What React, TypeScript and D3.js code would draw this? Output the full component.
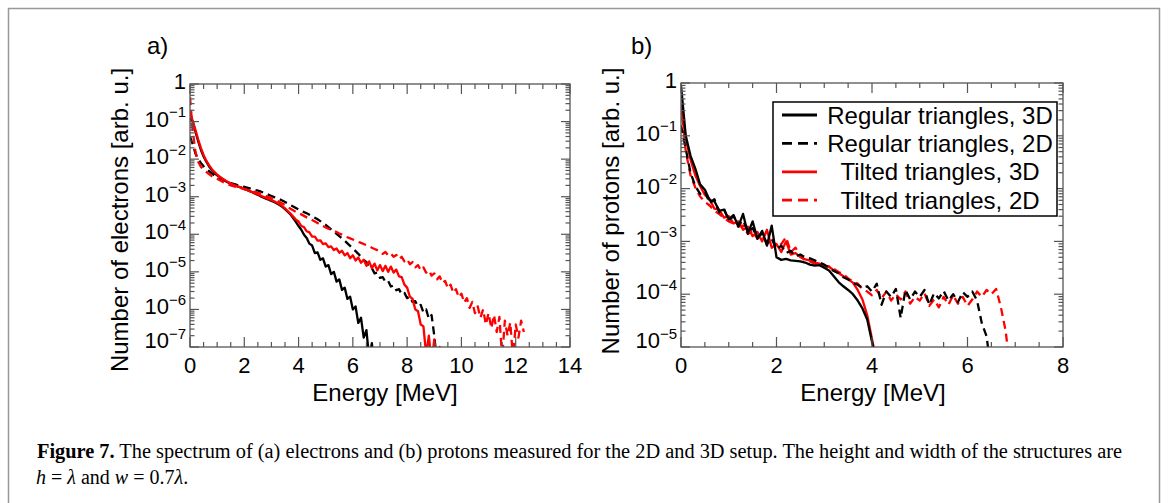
import React, { useEffect, useRef } from "react";
import * as d3 from "d3";

// energy bins are 0.1 MeV wide in both panels, first bin at 0 MeV
const binWidth = 0.1;

// a) electron spectra, log10 of the number per bin
const electronRegular3D = [
  -0.92, -1.0, -1.27, -1.52, -1.75, -1.93, -2.07, -2.19, -2.29, -2.37,
  -2.43, -2.48, -2.53, -2.58, -2.62, -2.65, -2.68, -2.71, -2.74, -2.76,
  -2.79, -2.82, -2.85, -2.88, -2.92, -2.95, -2.99, -3.02, -3.05, -3.08,
  -3.11, -3.14, -3.18, -3.22, -3.27, -3.33, -3.4, -3.47, -3.57, -3.67,
  -3.78, -3.88, -4.01, -4.1, -4.25, -4.3, -4.5, -4.48, -4.68, -4.64,
  -4.86, -4.82, -5.06, -5.0, -5.26, -5.2, -5.48, -5.42, -5.72, -5.66,
  -6.0, -5.92, -6.36, -6.22, -6.75, -6.55, -7.3, -6.9, -7.6,
];
const electronRegular2D = [
  -1.4, -1.6, -1.85, -2.0, -2.1, -2.19, -2.26, -2.32, -2.38, -2.43,
  -2.47, -2.51, -2.55, -2.58, -2.61, -2.64, -2.66, -2.68, -2.7, -2.72,
  -2.74, -2.76, -2.78, -2.8, -2.82, -2.84, -2.86, -2.89, -2.92, -2.95,
  -2.98, -3.01, -3.04, -3.07, -3.1, -3.14, -3.18, -3.22, -3.26, -3.3,
  -3.34, -3.37, -3.41, -3.44, -3.48, -3.52, -3.56, -3.6, -3.65, -3.7,
  -3.75, -3.81, -3.87, -3.93, -3.99, -4.05, -4.11, -4.17, -4.24, -4.31,
  -4.38, -4.45, -4.52, -4.6, -4.68, -4.74, -4.88, -4.9, -5.04, -5.02,
  -5.16, -5.14, -5.27, -5.24, -5.39, -5.36, -5.49, -5.46, -5.6, -5.56,
  -5.7, -5.66, -5.8, -5.78, -5.92, -5.88, -6.08, -6.0, -6.25, -6.15,
  -6.7, -7.4,
];
const electronTilted3D = [
  -0.75, -0.98, -1.22, -1.47, -1.7, -1.89, -2.04, -2.16, -2.26, -2.34,
  -2.41, -2.47, -2.52, -2.57, -2.61, -2.65, -2.68, -2.71, -2.74, -2.76,
  -2.79, -2.82, -2.85, -2.88, -2.91, -2.94, -2.97, -3.0, -3.03, -3.06,
  -3.09, -3.12, -3.16, -3.2, -3.25, -3.31, -3.38, -3.45, -3.53, -3.61,
  -3.66, -3.78, -3.81, -3.92, -3.95, -4.06, -4.06, -4.17, -4.16, -4.26,
  -4.24, -4.34, -4.32, -4.42, -4.38, -4.49, -4.44, -4.56, -4.5, -4.64,
  -4.56, -4.7, -4.62, -4.76, -4.68, -4.84, -4.72, -4.9, -4.78, -4.96,
  -4.82, -4.98, -4.84, -5.0, -4.86, -5.02, -4.94, -5.12, -5.14, -5.34,
  -5.42, -5.66, -5.72, -6.0, -6.05, -6.4, -6.45, -7.2, -6.7, -7.4,
  -6.8, -7.5, -7.0, -7.6,
];
const electronTilted2D = [
  -0.35, -1.25, -1.8, -2.07, -2.2, -2.28, -2.34, -2.4, -2.45, -2.49,
  -2.52, -2.56, -2.6, -2.64, -2.67, -2.7, -2.72, -2.74, -2.76, -2.78,
  -2.8, -2.82, -2.84, -2.86, -2.88, -2.9, -2.92, -2.95, -2.98, -3.01,
  -3.04, -3.07, -3.1, -3.14, -3.18, -3.22, -3.27, -3.32, -3.36, -3.4,
  -3.44, -3.47, -3.51, -3.55, -3.58, -3.62, -3.66, -3.7, -3.74, -3.78,
  -3.82, -3.85, -3.88, -3.91, -3.94, -3.98, -4.01, -4.05, -4.08, -4.11,
  -4.14, -4.17, -4.2, -4.23, -4.26, -4.29, -4.32, -4.36, -4.39, -4.42,
  -4.45, -4.52, -4.47, -4.56, -4.51, -4.6, -4.55, -4.66, -4.6, -4.72,
  -4.66, -4.8, -4.74, -4.88, -4.82, -4.96, -4.88, -5.02, -4.96, -5.1,
  -5.04, -5.2, -5.12, -5.3, -5.24, -5.44, -5.34, -5.56, -5.46, -5.68,
  -5.58, -5.82, -5.7, -5.96, -5.8, -6.1, -5.92, -6.22, -6.0, -6.4,
  -6.1, -6.5, -6.15, -6.6, -6.2, -7.3, -6.3, -6.7, -6.35, -7.3,
  -6.4, -6.75, -6.3, -6.6,
];

// b) proton spectra, log10 of the number per bin
const protonRegular3D = [
  -0.05, -1.0, -1.38, -1.62, -1.92, -2.02, -2.22, -2.24, -2.42, -2.4,
  -2.58, -2.5, -2.72, -2.48, -2.85, -2.62, -2.95, -2.8, -3.08, -2.7,
  -3.3, -3.35, -3.33, -3.36, -3.37, -3.38, -3.4, -3.44, -3.46, -3.45,
  -3.5, -3.55, -3.66, -3.77, -3.85, -3.92, -4.0, -4.12, -4.27, -4.48,
  -4.9, -5.3,
];
const protonRegular2D = [
  -0.8, -1.25, -1.7, -1.95, -2.1, -2.05, -2.28, -2.2, -2.45, -2.38,
  -2.6, -2.52, -2.7, -2.6, -2.82, -2.75, -2.92, -2.85, -3.05, -2.95,
  -3.15, -3.08, -3.22, -3.18, -3.28, -3.25, -3.3, -3.32, -3.36, -3.4,
  -3.44, -3.5, -3.56, -3.6, -3.68, -3.72, -3.78, -3.82, -3.88, -3.85,
  -3.95, -3.8, -4.2, -3.95, -4.05, -3.9, -4.45, -3.92, -4.1, -3.95,
  -4.05, -3.92, -4.2, -3.98, -4.08, -3.94, -4.12, -4.0, -4.15, -3.96,
  -4.05, -3.95, -4.12, -4.55, -4.8, -5.5,
];
const protonTilted3D = [
  -0.45, -1.05, -1.45, -1.75, -1.95, -2.12, -2.2, -2.38, -2.4, -2.55,
  -2.52, -2.66, -2.62, -2.78, -2.72, -2.9, -2.82, -3.0, -2.78, -3.12,
  -3.05, -3.2, -3.0, -3.25, -3.22, -3.3, -3.34, -3.36, -3.4, -3.42,
  -3.46, -3.48, -3.55, -3.6, -3.66, -3.72, -3.78, -3.92, -4.1, -4.4,
  -4.85, -5.3,
];
const protonTilted2D = [
  -0.4, -1.3, -1.75, -1.98, -2.15, -2.25, -2.32, -2.42, -2.48, -2.56,
  -2.62, -2.66, -2.72, -2.7, -2.86, -2.8, -2.95, -2.88, -3.02, -2.95,
  -3.1, -3.05, -2.92, -3.2, -3.12, -3.28, -3.36, -3.38, -3.42, -3.44,
  -3.46, -3.48, -3.52, -3.58, -3.62, -3.7, -3.76, -3.8, -3.9, -3.95,
  -4.02, -3.92, -4.08, -3.95, -4.12, -4.0, -4.1, -3.95, -4.18, -4.05,
  -4.12, -3.98, -4.22, -4.1, -4.25, -4.05, -4.2, -4.02, -4.18, -4.05,
  -4.22, -4.1, -3.95, -4.05, -3.92, -4.0, -3.9, -4.25, -4.7, -5.5,
];

const legendLabels = [
  "Regular triangles, 3D",
  "Regular triangles, 2D",
  "Tilted triangles, 3D",
  "Tilted triangles, 2D",
];
const legendColors = ["#000", "#000", "#ff0000", "#ff0000"];
const legendDashed = [false, true, false, true];

const sans = "'Liberation Sans', Arial, Helvetica, sans-serif";
const serif = "'Liberation Serif', 'Times New Roman', serif";

type Series = { values: number[]; color: string; dashed: boolean };
type Panel = {
  id: string;
  left: number; right: number; top: number; bottom: number;
  xMax: number; yMinExp: number;
  series: Series[];
  yLabel: string; yLabelX: number; yLabelY: number;
  xLabelX: number;
  tag: string; tagX: number;
};

function drawPanel(svg: any, p: Panel) {
  const x = d3.scaleLinear().domain([0, p.xMax]).range([p.left, p.right]);
  const y = d3.scaleLog().domain([Math.pow(10, p.yMinExp), 1]).range([p.bottom, p.top]);
  const axisColor = "#555";

  svg.append("clipPath").attr("id", p.id)
    .append("rect")
    .attr("x", p.left).attr("y", p.top)
    .attr("width", p.right - p.left).attr("height", p.bottom - p.top);

  const line = d3.line<number>()
    .x((_, i) => x(i * binWidth))
    .y(d => y(Math.pow(10, d)));

  const plot = svg.append("g").attr("clip-path", `url(#${p.id})`);
  p.series.forEach(s => {
    plot.append("path")
      .attr("d", line(s.values))
      .attr("fill", "none")
      .attr("stroke", s.color)
      .attr("stroke-width", 2.3)
      .attr("stroke-linejoin", "round")
      .attr("stroke-dasharray", s.dashed ? "8,5" : null);
  });

  // frame
  svg.append("rect")
    .attr("x", p.left).attr("y", p.top)
    .attr("width", p.right - p.left).attr("height", p.bottom - p.top)
    .attr("fill", "none").attr("stroke", axisColor).attr("stroke-width", 1.3);

  // x ticks, inward on bottom and top
  const ticks = svg.append("g").attr("stroke", axisColor).attr("stroke-width", 1.2);
  d3.range(0, p.xMax + 1e-9, 0.5).forEach(t => {
    const len = t % 2 === 0 ? 10 : 5;
    ticks.append("line").attr("x1", x(t)).attr("x2", x(t)).attr("y1", p.bottom).attr("y2", p.bottom - len);
    ticks.append("line").attr("x1", x(t)).attr("x2", x(t)).attr("y1", p.top).attr("y2", p.top + len);
  });
  // y ticks, log minor ticks
  y.ticks().forEach(t => {
    const e = Math.log10(t);
    const major = Math.abs(e - Math.round(e)) < 1e-6;
    const len = major ? 9 : 4.5;
    ticks.append("line").attr("x1", p.left).attr("x2", p.left + len).attr("y1", y(t)).attr("y2", y(t));
    ticks.append("line").attr("x1", p.right).attr("x2", p.right - len).attr("y1", y(t)).attr("y2", y(t));
  });

  // x tick labels
  d3.range(0, p.xMax + 1e-9, 2).forEach(t => {
    svg.append("text")
      .attr("x", x(t)).attr("y", 373)
      .attr("text-anchor", "middle")
      .attr("font-family", sans).attr("font-size", 22)
      .text(String(t));
  });

  // y tick labels
  d3.range(0, p.yMinExp - 1, -1).forEach(e => {
    const ty = Math.min(y(Math.pow(10, e)) + 5, p.bottom + 1);
    const lab = svg.append("text")
      .attr("x", p.left - 4).attr("y", ty)
      .attr("text-anchor", "end")
      .attr("font-family", sans).attr("font-size", 22);
    if (e === 0) {
      lab.text("1");
    } else {
      lab.append("tspan").text("10");
      lab.append("tspan").attr("dy", -9.5).attr("font-size", 15).text("\u2212" + -e);
    }
  });

  // axis titles
  svg.append("text")
    .attr("x", p.xLabelX).attr("y", 401)
    .attr("text-anchor", "middle")
    .attr("font-family", sans).attr("font-size", 24)
    .text("Energy [MeV]");
  svg.append("text")
    .attr("transform", `translate(${p.yLabelX},${p.yLabelY}) rotate(-90)`)
    .attr("text-anchor", "middle")
    .attr("dy", "0.35em")
    .attr("font-family", sans).attr("font-size", 24)
    .text(p.yLabel);

  svg.append("text")
    .attr("x", p.tagX).attr("y", 54)
    .attr("font-family", sans).attr("font-size", 24)
    .text(p.tag);
}

export default function App() {
  const ref = useRef<SVGSVGElement>(null);

  useEffect(() => {
    const svg = d3.select(ref.current);
    svg.selectAll("*").remove();

    svg.append("rect").attr("width", 1168).attr("height", 503).attr("fill", "#fff");
    // figure border
    svg.append("rect")
      .attr("x", 8.5).attr("y", 8.5).attr("width", 1151).attr("height", 600)
      .attr("fill", "none").attr("stroke", "#999").attr("stroke-width", 1.5);

    drawPanel(svg, {
      id: "clipA",
      left: 190, right: 570, top: 84, bottom: 347,
      xMax: 14, yMinExp: -7,
      series: [
        { values: electronRegular3D, color: legendColors[0], dashed: false },
        { values: electronRegular2D, color: legendColors[1], dashed: true },
        { values: electronTilted3D, color: legendColors[2], dashed: false },
        { values: electronTilted2D, color: legendColors[3], dashed: true },
      ],
      yLabel: "Number of electrons [arb. u.]", yLabelX: 120, yLabelY: 220,
      xLabelX: 385,
      tag: "a)", tagX: 147,
    });

    drawPanel(svg, {
      id: "clipB",
      left: 681, right: 1063, top: 83, bottom: 347,
      xMax: 8, yMinExp: -5,
      series: [
        { values: protonTilted2D, color: legendColors[3], dashed: true },
        { values: protonTilted3D, color: legendColors[2], dashed: false },
        { values: protonRegular2D, color: legendColors[1], dashed: true },
        { values: protonRegular3D, color: legendColors[0], dashed: false },
      ],
      yLabel: "Number of protons [arb. u.]", yLabelX: 611, yLabelY: 211,
      xLabelX: 873,
      tag: "b)", tagX: 631,
    });

    // legend of panel b
    const legend = svg.append("g");
    legend.append("rect")
      .attr("x", 773).attr("y", 102).attr("width", 284).attr("height", 114)
      .attr("fill", "#fff").attr("stroke", "#000").attr("stroke-width", 1.5);
    legendLabels.forEach((label, i) => {
      const ly = 115 + i * 28.4;
      legend.append("line")
        .attr("x1", 782).attr("x2", 817).attr("y1", ly).attr("y2", ly)
        .attr("stroke", legendColors[i]).attr("stroke-width", 2.8)
        .attr("stroke-dasharray", legendDashed[i] ? "10,6" : null);
      legend.append("text")
        .attr("x", 940).attr("y", ly + 8.5)
        .attr("text-anchor", "middle")
        .attr("font-family", sans).attr("font-size", 24)
        .text(label);
    });

    // caption
    const cap1 = svg.append("text")
      .attr("x", 37).attr("y", 458)
      .attr("font-family", serif).attr("font-size", 20)
      .attr("textLength", 1085).attr("lengthAdjust", "spacingAndGlyphs");
    cap1.append("tspan").attr("font-weight", "bold").text("Figure 7.");
    cap1.append("tspan").text(" The spectrum of (a) electrons and (b) protons measured for the 2D and 3D setup. The height and width of the structures are");

    const cap2 = svg.append("text")
      .attr("x", 36).attr("y", 484)
      .attr("font-family", serif).attr("font-size", 20);
    cap2.append("tspan").attr("font-style", "italic").text("h");
    cap2.append("tspan").text(" = ");
    cap2.append("tspan").attr("font-style", "italic").text("\u03bb");
    cap2.append("tspan").text(" and ");
    cap2.append("tspan").attr("font-style", "italic").text("w");
    cap2.append("tspan").text(" = 0.7");
    cap2.append("tspan").attr("font-style", "italic").text("\u03bb");
    cap2.append("tspan").text(".");
  }, []);

  return (
    <svg
      ref={ref}
      width={1168}
      height={503}
      style={{ position: "absolute", left: 0, top: 0, display: "block" }}
    />
  );
}
